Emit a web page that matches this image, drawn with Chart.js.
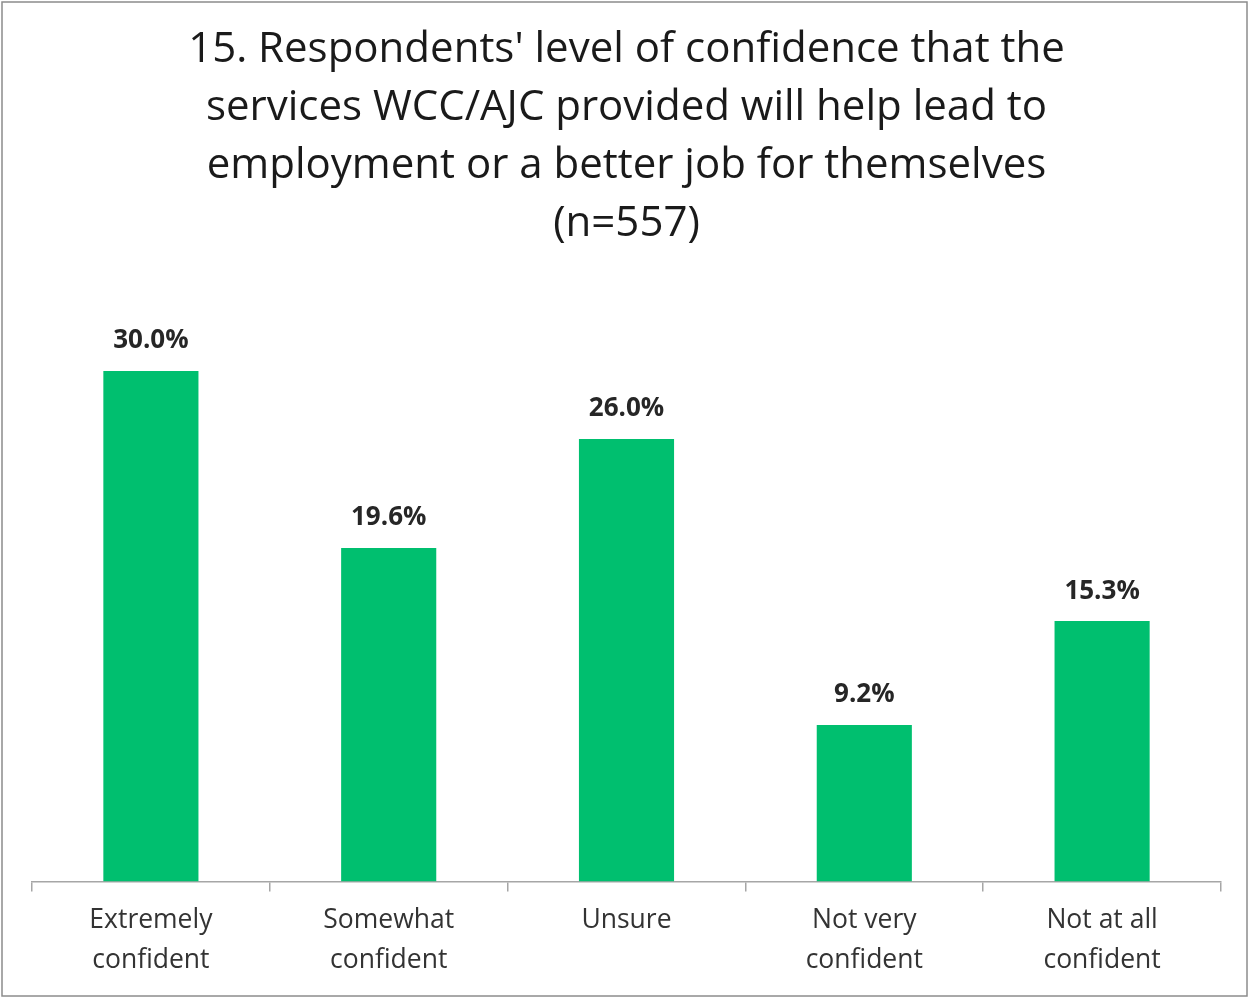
<!DOCTYPE html>
<html>
<head>
<meta charset="utf-8">
<script src="https://cdn.jsdelivr.net/npm/chart.js@4.4.1/dist/chart.umd.min.js"></script>
<style>
  html, body { margin: 0; padding: 0; background: #fff; }
  #wrap { width: 1248px; height: 998px; position: relative; }
</style>
</head>
<body>
<div id="wrap"><canvas id="graficoConfianca" width="1248" height="998"></canvas></div>
<script>
const categorias = [
    ["Extremely", "confident"],
    ["Somewhat", "confident"],
    ["Unsure"],
    ["Not very", "confident"],
    ["Not at all", "confident"]
];
const percentuais = [30.0, 19.6, 26.0, 9.2, 15.3];
const titulo = [
    "15. Respondents' level of confidence that the",
    "services WCC/AJC provided will help lead to",
    "employment or a better job for themselves",
    "(n=557)"
];

const fonte = "'Open Sans', Lato, sans-serif";

// moldura cinza em volta do grafico
const moldura = {
    id: 'moldura',
    afterDraw(chart) {
        const ctx = chart.ctx;
        ctx.save();
        ctx.strokeStyle = '#8c8c8c';
        ctx.lineWidth = 1.5;
        ctx.strokeRect(2, 2, chart.width - 3, chart.height - 4);
        ctx.restore();
    }
};

// rotulo de valor acima de cada barra
const rotulos = {
    id: 'rotulos',
    afterDatasetsDraw(chart) {
        const ctx = chart.ctx;
        const meta = chart.getDatasetMeta(0);
        ctx.save();
        ctx.font = "bold 26px " + fonte;
        ctx.fillStyle = '#262626';
        ctx.textAlign = 'center';
        ctx.textBaseline = 'middle';
        meta.data.forEach((barra, i) => {
            const valor = chart.data.datasets[0].data[i];
            ctx.fillText(valor.toFixed(1) + '%', barra.x, barra.y - 30);
        });
        ctx.restore();
    }
};

const graficoConfianca = new Chart(document.getElementById('graficoConfianca'), {
    type: 'bar',
    data: {
        labels: categorias,
        datasets: [{
            data: percentuais,
            backgroundColor: '#00BF6F',
            categoryPercentage: 1.0,
            barPercentage: 0.4
        }]
    },
    options: {
        responsive: false,
        animation: false,
        layout: { padding: { left: 32, right: 27, top: 0, bottom: 9 } },
        plugins: {
            legend: { display: false },
            tooltip: { enabled: false },
            title: {
                display: true,
                text: titulo,
                color: '#1a1a1a',
                font: { family: fonte, size: 42, weight: 'normal', lineHeight: 1.38 },
                padding: { top: 21, bottom: 33 }
            }
        },
        scales: {
            y: {
                display: false,
                min: 0,
                max: 35
            },
            x: {
                grid: {
                    display: true,
                    drawOnChartArea: false,
                    drawTicks: true,
                    tickLength: 10,
                    color: '#a6a6a6',
                    lineWidth: 1.5
                },
                border: { display: true, color: '#a6a6a6', width: 1.5 },
                ticks: {
                    color: '#333333',
                    padding: 9,
                    maxRotation: 0,
                    font: { family: fonte, size: 26.5, lineHeight: 1.5 }
                }
            }
        }
    },
    plugins: [moldura, rotulos]
});
</script>
</body>
</html>
